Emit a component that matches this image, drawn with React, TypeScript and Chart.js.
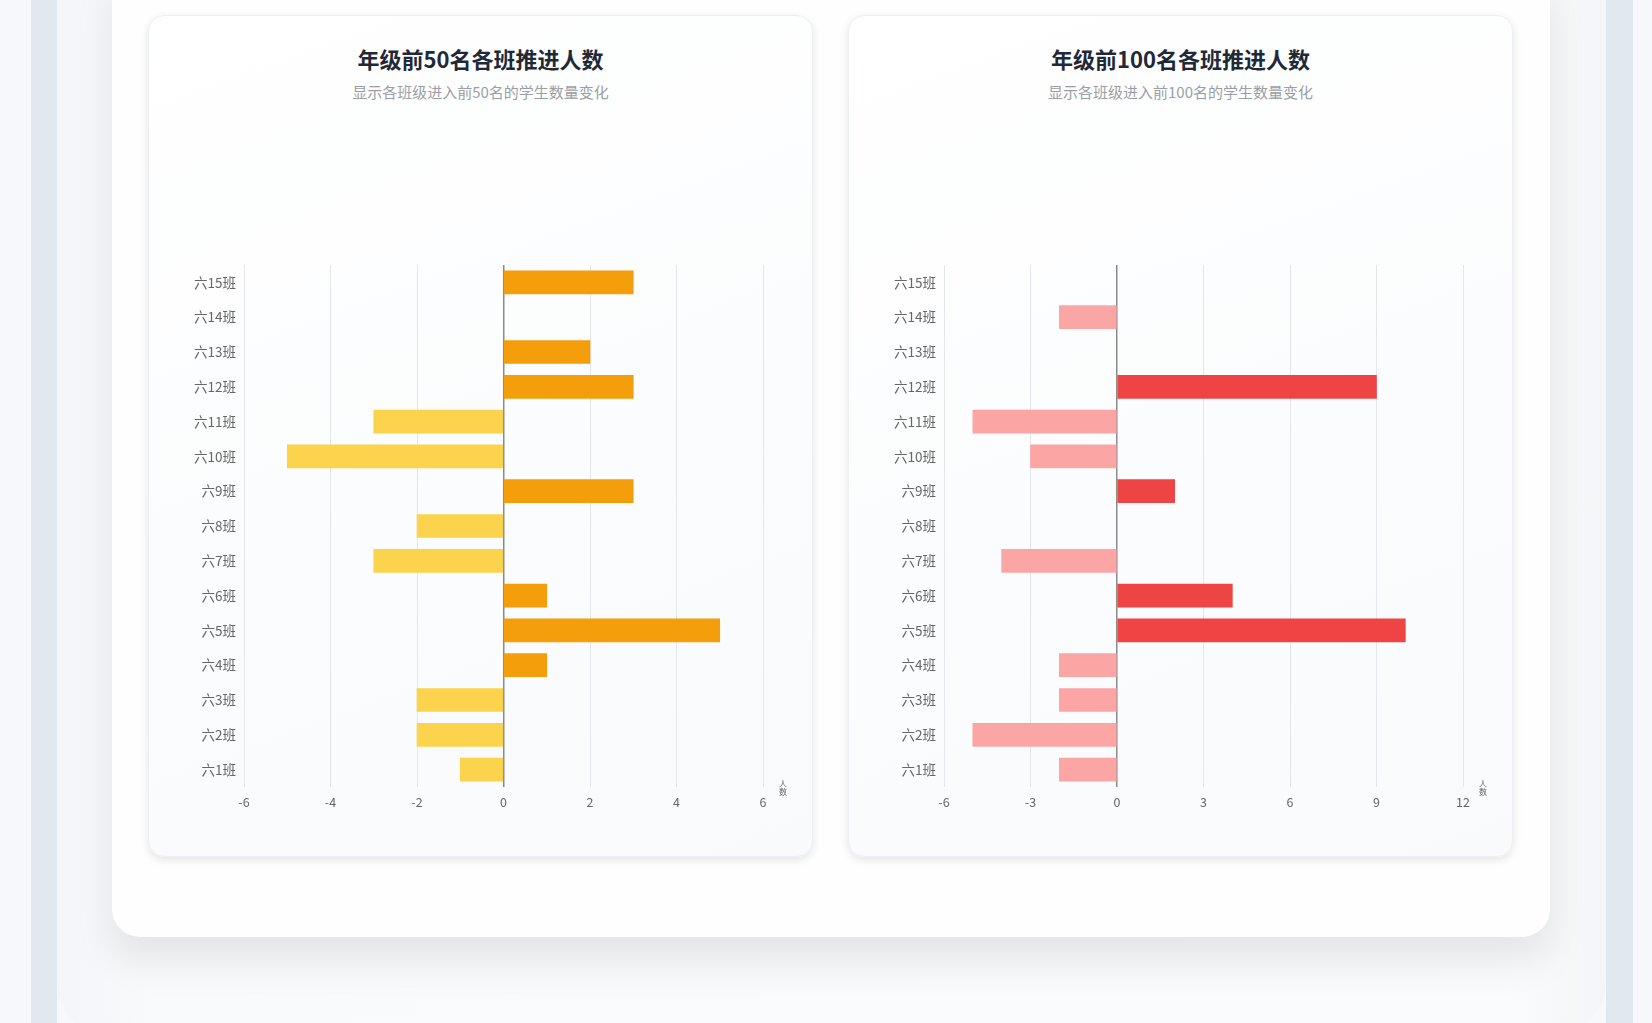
import React, { useEffect, useRef } from "react";
import { Chart, registerables } from "chart.js";

Chart.register(...registerables);

const FONT = "'Noto Sans CJK SC', 'Noto Sans', sans-serif";

const classNames = [
  "六15班", "六14班", "六13班", "六12班", "六11班", "六10班", "六9班", "六8班",
  "六7班", "六6班", "六5班", "六4班", "六3班", "六2班", "六1班",
];

const top50Change = [3, 0, 2, 3, -3, -5, 3, -2, -3, 1, 5, 1, -2, -2, -1];
const top100Change = [0, -2, 0, 9, -5, -3, 2, 0, -4, 4, 10, -2, -2, -5, -2];

const top50Axis = { min: -6, max: 6, step: 2 };
const top100Axis = { min: -6, max: 12, step: 3 };

const axisName = "人数";

const axisNamePlugin = {
  id: "axisName",
  afterDraw(chart: any) {
    const { ctx, chartArea } = chart;
    ctx.save();
    ctx.fillStyle = "#666";
    ctx.font = `8px ${FONT}`;
    ctx.textAlign = "center";
    ctx.textBaseline = "middle";
    const x = chartArea.right + 20;
    const y = chartArea.bottom + 1;
    ctx.fillText(axisName[0], x, y - 4);
    ctx.fillText(axisName[1], x, y + 4);
    ctx.restore();
  },
};

type BarCardProps = {
  left: number;
  title: string;
  subtitle: string;
  values: number[];
  axis: { min: number; max: number; step: number };
  pos: string;
  neg: string;
};

const CARD_W = 665;
const CARD_H = 842;

function BarCard({ left, title, subtitle, values, axis, pos, neg }: BarCardProps) {
  const ref = useRef<HTMLCanvasElement | null>(null);
  useEffect(() => {
    if (!ref.current) return;
    const chart = new Chart(ref.current, {
      type: "bar",
      data: {
        labels: classNames,
        datasets: [
          {
            data: values,
            backgroundColor: values.map((v) => (v > 0 ? pos : v < 0 ? neg : "rgba(0,0,0,0)")),
            borderWidth: 0,
            barThickness: 23,
          },
        ],
      },
      options: {
        indexAxis: "y",
        responsive: false,
        maintainAspectRatio: false,
        animation: false,
        layout: { padding: { top: 250, left: 0, right: 50, bottom: 40 } },
        plugins: { legend: { display: false }, tooltip: { enabled: false } },
        scales: {
          x: {
            min: axis.min,
            max: axis.max,
            ticks: {
              stepSize: axis.step,
              color: "#666",
              font: { size: 12.5, family: FONT },
              padding: 8,
            },
            grid: {
              color: (c: any) => (c.tick && c.tick.value === 0 ? "#8a8a8a" : "#e3e6ea"),
              lineWidth: (c: any) => (c.tick && c.tick.value === 0 ? 1.5 : 1),
              drawTicks: false,
            },
            border: { display: false },
            afterFit: (s: any) => {
              s.height = 30;
            },
          },
          y: {
            ticks: { color: "#666", font: { size: 13.5, family: FONT }, padding: 8 },
            grid: { display: false, drawTicks: false },
            border: { display: false },
            afterFit: (s: any) => {
              s.width = 96;
            },
          },
        },
      },
      plugins: [axisNamePlugin],
    });
    return () => chart.destroy();
  }, []);

  return (
    <div
      style={{
        position: "absolute",
        left,
        top: 15,
        width: CARD_W,
        height: CARD_H,
        borderRadius: 16,
        border: "1px solid #eceff3",
        boxSizing: "border-box",
        background: "linear-gradient(160deg, #ffffff 0%, #f8fafc 100%)",
        boxShadow: "0 3px 8px rgba(0,0,0,0.10)",
        overflow: "hidden",
      }}
    >
      <div
        style={{
          position: "absolute",
          left: 0,
          right: 0,
          top: 27,
          textAlign: "center",
          fontSize: 22,
          fontWeight: 700,
          color: "#1f2937",
          lineHeight: "30px",
        }}
      >
        {title}
      </div>
      <div
        style={{
          position: "absolute",
          left: 0,
          right: 0,
          top: 66,
          textAlign: "center",
          fontSize: 15,
          color: "#9a9ea5",
          lineHeight: "20px",
        }}
      >
        {subtitle}
      </div>
      <canvas
        ref={ref}
        width={CARD_W}
        height={CARD_H}
        style={{ position: "absolute", left: -1, top: -1, width: CARD_W, height: CARD_H }}
      />
    </div>
  );
}

export default function App() {
  return (
    <div
      style={{
        position: "fixed",
        left: 0,
        top: 0,
        width: 1652,
        height: 1023,
        overflow: "hidden",
        background: "#f6f8fb",
        fontFamily: FONT,
      }}
    >
      <div style={{ position: "absolute", left: 31, top: 0, width: 26, height: 1023, background: "#e2e8f0" }} />
      <div style={{ position: "absolute", left: 1606, top: 0, width: 27, height: 1023, background: "#e2e8f0" }} />
      <div
        style={{
          position: "absolute",
          left: 57,
          top: -100,
          width: 1549,
          height: 1140,
          borderRadius: 60,
          background: "linear-gradient(90deg, #f3f5f8 0%, #f8fafc 6%, #f9fbfc 94%, #f3f5f8 100%)",
        }}
      />
      <div
        style={{
          position: "absolute",
          left: 112,
          top: -40,
          width: 1438,
          height: 977,
          borderRadius: 28,
          background: "#fefefe",
          boxShadow: "0 24px 40px rgba(0,0,0,0.09)",
        }}
      />
      <BarCard
        left={148}
        title="年级前50名各班推进人数"
        subtitle="显示各班级进入前50名的学生数量变化"
        values={top50Change}
        axis={top50Axis}
        pos="#f59e0b"
        neg="#fcd34d"
      />
      <BarCard
        left={848}
        title="年级前100名各班推进人数"
        subtitle="显示各班级进入前100名的学生数量变化"
        values={top100Change}
        axis={top100Axis}
        pos="#ef4444"
        neg="#fca5a5"
      />
    </div>
  );
}
